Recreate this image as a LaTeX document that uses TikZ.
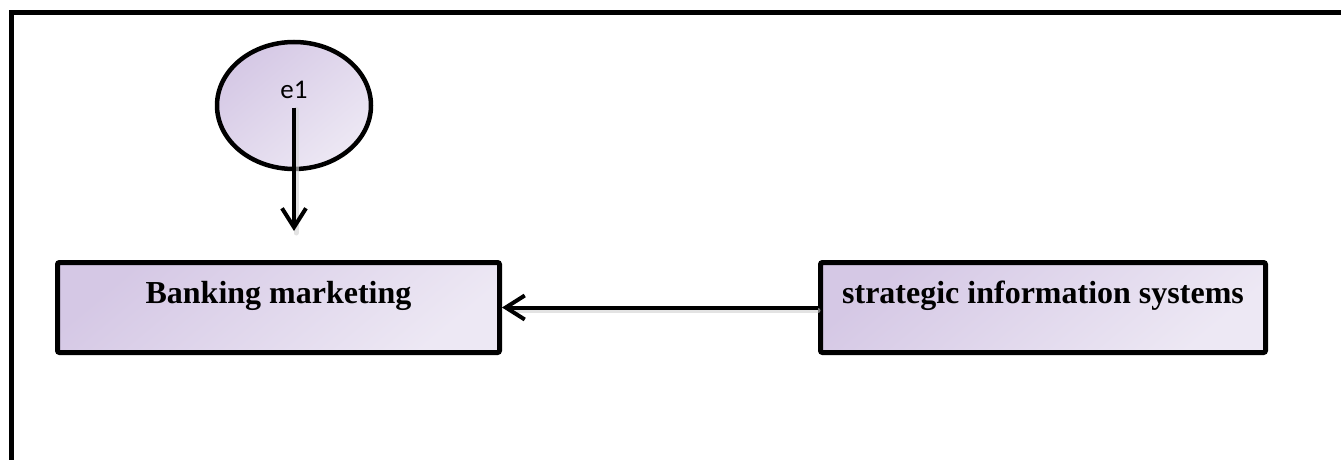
\documentclass[tikz,border=0pt]{standalone}
\usepackage{fontspec}
\setmainfont{Liberation Serif}
\setsansfont{Carlito}
\usetikzlibrary{shapes.geometric,arrows.meta}
\definecolor{lavdark}{RGB}{213,200,229}
\definecolor{lavlight}{RGB}{237,232,244}
\tikzset{
  fillgrad/.style={top color=lavdark, bottom color=lavlight, shading angle=40},
  latent/.style={ellipse, draw=black, line width=4.5pt, fillgrad, minimum width=154pt, minimum height=127pt, inner sep=0pt, font=\sffamily\fontsize{27}{32}\selectfont, text height=18pt, text depth=31pt},
  obsbox/.style={rectangle, rounded corners=2pt, draw=black, line width=5pt, fillgrad, minimum height=90pt, inner sep=0pt, font=\bfseries\fontsize{32}{38}\selectfont, text height=22pt, text depth=31pt},
  conn/.style={line width=4pt, -{Straight Barb[length=19pt,width=24pt,line width=4pt]}},
  shadowline/.style={line width=5pt, draw=black!18, opacity=0.6, line cap=round}
}
\begin{document}
\begin{tikzpicture}[x=1pt,y=-1pt]
\useasboundingbox (0,0) rectangle (1341,460);
% frame
\draw[line width=5pt] (1341,12.5) -- (11.5,12.5) -- (11.5,460);
% nodes
\node[latent] (e1) at (294,105.5) {e1};
\node[obsbox, minimum width=442pt] (bm) at (278.5,307.5) {Banking marketing};
\node[obsbox, minimum width=445pt] (sis) at (1043,307.5) {strategic information systems};
\coordinate (t1) at (294,231);
% shadows
\draw[shadowline] ([xshift=2pt,yshift=-4pt]e1.center) -- ([xshift=2pt,yshift=-2pt]t1);
\draw[shadowline] ([yshift=-3pt]sis.west) -- ([xshift=14pt,yshift=-3pt]bm.east);
% connectors
\draw[conn] ([yshift=-2pt]e1.center) -- (t1);
\draw[conn] (sis.west) -- (bm.east);
\end{tikzpicture}
\end{document}
